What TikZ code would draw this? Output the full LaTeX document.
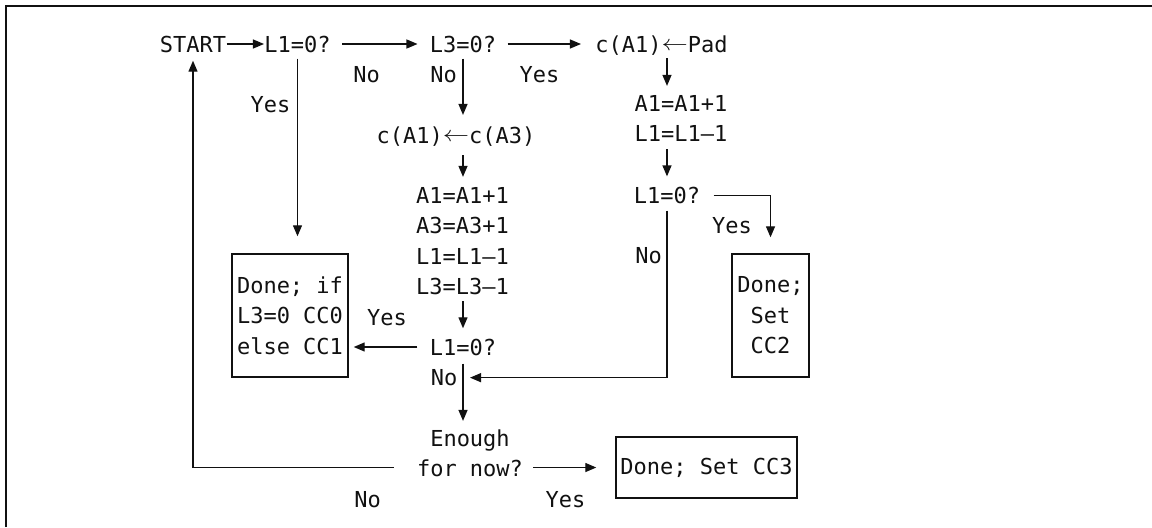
\documentclass[tikz,border=0pt]{standalone}
\usepackage{fontspec}
\usepackage{graphicx}
\setmonofont{DejaVu Sans Mono}
\usetikzlibrary{arrows.meta}
\definecolor{ink}{HTML}{111111}
\newcommand{\larr}{\raisebox{1pt}{\scalebox{1.2}[1]{$\leftarrow$}}}

\begin{document}
\begin{tikzpicture}[
  x=0.5pt, y=-0.5pt,
  font=\ttfamily\fontsize{11}{15.2}\selectfont,
  lbl/.style  = {inner sep=0pt, anchor=base, text=ink},
  txt/.style  = {inner sep=0pt, align=center, text=ink},
  done/.style = {draw=ink, line width=0.7pt, inner sep=0pt, align=center, text=ink},
  arr/.style  = {-{Triangle[length=5.5pt,width=4.5pt]}, draw=ink, line width=0.65pt},
  rim/.style  = {draw=ink, line width=1.1pt},
]
\useasboundingbox (0,0) rectangle (1152,527);
\draw[rim] (6,527) -- (6,6) -- (1152,6);

% ---------- top row ----------
\node[lbl] (start) at (193,52)   {START};
\node[lbl] (tst1)  at (297.5,52) {L1=0?};
\node[lbl] (tst3)  at (463,52)   {L3=0?};
\node[lbl] (pad)   at (661.5,52) {c(A1)\larr Pad};

\node[lbl] (no1)  at (366.5,82)   {No};
\node[lbl] (no3)  at (443.5,82)   {No};
\node[lbl] (yes3) at (539.5,82)   {Yes};
\node[lbl] (yes1) at (270.5,112.5) {Yes};

% ---------- middle column ----------
\node[lbl] (move) at (456,143) {c(A1)\larr c(A3)};
\node[txt] (incr) at (462.5,241) {A1=A1+1\\A3=A3+1\\L1=L1–1\\L3=L3–1};
\node[lbl] (tstC) at (463,355) {L1=0?};
\node[lbl] (yesC) at (387,325) {Yes};
\node[lbl] (noC)  at (444,385.5) {No};
\node[txt] (enough) at (470,453) {Enough\\for now?};
\node[lbl] (noD)  at (367.5,507) {No};
\node[lbl] (yesD) at (565.5,507) {Yes};

% ---------- right column ----------
\node[txt] (addR) at (681,118.5) {A1=A1+1\\L1=L1–1};
\node[lbl] (tstR) at (667,203.5) {L1=0?};
\node[lbl] (yesR) at (732,233)   {Yes};
\node[lbl] (noR)  at (648.5,263.5) {No};

% ---------- end boxes ----------
\node[done, minimum width=58pt, minimum height=61.5pt] (cc01) at (290,315.5)
  {Done; if\\L3=0 CC0\\else CC1};
\node[done, minimum width=38.5pt, minimum height=61.5pt] (cc2) at (770.5,315.5)
  {Done;\\Set\\CC2};
\node[done, minimum width=90.5pt, minimum height=30.5pt] (cc3) at (706.5,467.5)
  {Done; Set CC3};

% ---------- arrows ----------
\coordinate (merge) at (tstC.south |- noC);
\draw[arr] (start.east) -- (start.east -| tst1.west);
\draw[arr, shorten <=5.7pt, shorten >=6pt] (tst1.east) -- (tst1.east -| tst3.west);
\draw[arr, shorten <=5.5pt, shorten >=7pt] (tst3.east) -- (tst3.east -| pad.west);
\draw[arr, shorten <=3pt, shorten >=8.5pt] (tst1.south) -- (tst1.south |- cc01.north);
\draw[arr, shorten <=3pt, shorten >=5.5pt] (tst3.south) -- (tst3.south |- move.north);
\draw[arr, shorten <=4.5pt, shorten >=5pt] (move.south -| tst3) -- (tst3 |- incr.north);
\draw[arr, shorten <=3pt, shorten >=5pt] (incr.south -| tstC) -- (tstC.north);
\draw[arr, shorten <=6pt, shorten >=2.5pt] (tstC.west) -- (tstC.west -| cc01.east);
\draw[arr, shorten <=4pt, shorten >=4pt] (tstC.south) -- (tstC.south |- enough.north);
\draw[arr, shorten <=1.5pt, shorten >=4.5pt] (pad.south -| tstR) -- (tstR |- addR.north);
\draw[arr, shorten <=3.5pt, shorten >=5.2pt] (addR.south -| tstR) -- (tstR.north);
\draw[arr, shorten <=6.5pt, shorten >=8pt] (tstR.east) -| (cc2.north);
\draw[arr, shorten <=3.25pt, shorten >=3.5pt] (tstR.south) |- (merge);
\draw[arr, shorten <=5pt, shorten >=9.5pt] (enough.east |- cc3) -- (cc3.west);
\draw[arr, shorten <=11.5pt, shorten >=4pt] (enough.west |- cc3) -| (start.south);

\end{tikzpicture}
\end{document}
